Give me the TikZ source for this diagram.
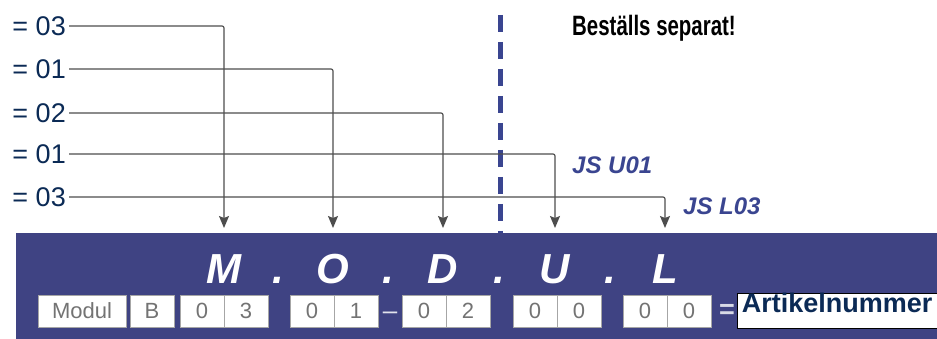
\documentclass[tikz,border=0pt]{standalone}
\usepackage{fontspec}
\setmainfont{Liberation Sans}
\newfontfamily\condfont[FakeStretch=0.73]{Liberation Sans}
\usetikzlibrary{arrows.meta, positioning}
\definecolor{panelblue}{HTML}{3F4383}
\definecolor{navy}{HTML}{0B2A55}
\definecolor{jsblue}{HTML}{3A4590}
\definecolor{linegray}{HTML}{4D4D4D}

\tikzset{
    vallabel/.style={text=navy, inner sep=3pt, anchor=east, font=\fontsize{27}{27}\selectfont},
    conn/.style={draw=linegray, line width=1.2pt, rounded corners=2pt, -{Stealth[length=12pt, width=10pt, inset=2pt]}},
    letter/.style={text=white, anchor=base, inner sep=0pt, font=\fontsize{42}{42}\selectfont\bfseries\itshape},
    digitbox/.style={draw=gray!70, fill=white, minimum width=44pt, minimum height=32pt, inner sep=0pt, text=gray!90!black, font=\fontsize{22}{22}\selectfont},
    jslabel/.style={text=jsblue, anchor=west, inner sep=0pt, font=\fontsize{24}{24}\selectfont\bfseries\itshape}
}

\begin{document}
\begin{tikzpicture}[x=1pt, y=-1pt]
    \useasboundingbox (0,0) rectangle (937,339);

    % separator
    \draw[jsblue, line width=5pt, dash pattern=on 17pt off 10pt] (500,15) -- (500,240);

    % panel
    \node[fill=panelblue, minimum width=921pt, minimum height=106pt, inner sep=0pt, anchor=north west] (panel) at (16,233) {};

    % values on the left
    \node[vallabel] (v1) at (69,26) {= 03};
    \node[vallabel] (v2) at (69,69) {= 01};
    \node[vallabel] (v3) at (69,113) {= 02};
    \node[vallabel] (v4) at (69,154) {= 01};
    \node[vallabel] (v5) at (69,197) {= 03};

    % arrow tips
    \coordinate (tM) at (224,228);
    \coordinate (tO) at (333,228);
    \coordinate (tD) at (443,228);
    \coordinate (tU) at (555,228);
    \coordinate (tL) at (665,228);

    \draw[conn] (v1.east) -| (tM);
    \draw[conn] (v2.east) -| (tO);
    \draw[conn] (v3.east) -| (tD);
    \draw[conn] (v4.east) -| (tU);
    \draw[conn] (v5.east) -| (tL);

    \node[anchor=base west, inner sep=0pt, font=\fontsize{28}{28}\selectfont\condfont\bfseries] (sep) at (572,36) {Beställs separat!};
    \node[jslabel] (jsu) at (572,165) {JS U01};
    \node[jslabel] (jsl) at (683,206) {JS L03};

    % letters
    \node[letter] (M) at (224,283) {M};
    \node[letter] (O) at (333,283) {O};
    \node[letter] (D) at (443,283) {D};
    \node[letter] (U) at (555,283) {U};
    \node[letter] (L) at (665,283) {L};
    \foreach \x in {278.5, 388, 499, 610}
        \node[letter] at (\x,283) {.};

    % code boxes
    \node[digitbox, minimum width=88pt] (modul) at (82,311) {Modul};
    \node[digitbox] (b) at (152,311) {B};
    \node[digitbox] (m1) at (202,311) {0};
    \node[digitbox] (m2) at (246,311) {3};
    \node[digitbox] (o1) at (312,311) {0};
    \node[digitbox] (o2) at (356,311) {1};
    \node[anchor=base, inner sep=0pt, text=white!85!panelblue, font=\fontsize{26}{26}\selectfont] (dash) at (390,319) {--};
    \node[digitbox] (d1) at (424,311) {0};
    \node[digitbox] (d2) at (468,311) {2};
    \node[digitbox] (u1) at (535,311) {0};
    \node[digitbox] (u2) at (579,311) {0};
    \node[digitbox] (l1) at (645,311) {0};
    \node[digitbox] (l2) at (689,311) {0};
    \node[text=white!80!panelblue, font=\fontsize{27}{27}\selectfont\bfseries] (eq) at (727,311) {=};
    \node[draw=black, fill=white, anchor=north west, inner xsep=3pt, inner ysep=0pt, minimum width=200pt, text height=19pt, text depth=16pt, text=navy, font=\fontsize{27}{27}\selectfont\bfseries] (art) at (737,293) {Artikelnummer};
\end{tikzpicture}
\end{document}
